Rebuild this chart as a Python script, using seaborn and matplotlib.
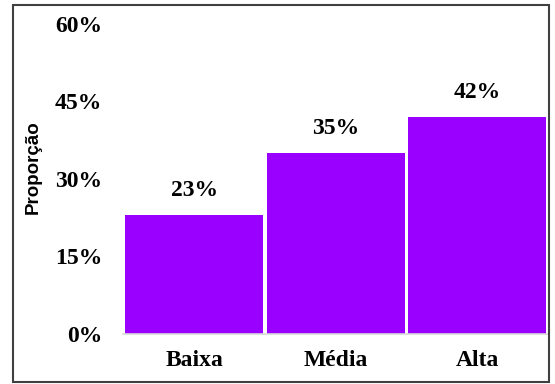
import matplotlib
matplotlib.use("Agg")
import matplotlib.pyplot as plt
from matplotlib.patches import Rectangle
from matplotlib.ticker import PercentFormatter
import pandas as pd
import seaborn as sns

categorias = ["Baixa", "Média", "Alta"]
proporcoes = [0.23, 0.35, 0.42]
rotulos = ["23%", "35%", "42%"]
yticks = [0.0, 0.15, 0.30, 0.45, 0.60]

sns.set_style("white")
plt.rcParams["font.family"] = ["Liberation Serif", "DejaVu Serif"]
plt.rcParams["text.color"] = "black"
plt.rcParams["xtick.color"] = "black"
plt.rcParams["ytick.color"] = "black"

df = pd.DataFrame({"categoria": categorias, "proporcao": proporcoes})

fig = plt.figure(figsize=(5.55, 3.84), dpi=100)
ax = fig.add_axes([0.2222, 0.1315, 0.765, 0.806])

sns.barplot(data=df, x="categoria", y="proporcao", color="#9900FF",
            saturation=1, width=0.975, linewidth=0, ax=ax)

ax.set_xlim(-0.5, 2.5)
ax.set_ylim(0, 0.60)
ax.set_yticks(yticks)
ax.yaxis.set_major_formatter(PercentFormatter(1.0, decimals=0))

for s in ["top", "right", "left"]:
    ax.spines[s].set_visible(False)
ax.spines["bottom"].set_color("#d9d9d9")
ax.spines["bottom"].set_linewidth(1.2)

ax.tick_params(axis="y", length=0, pad=15, labelsize=17, labelcolor="black")
ax.tick_params(axis="x", length=0, pad=12, labelsize=17, labelcolor="black")
for lab in ax.get_xticklabels() + ax.get_yticklabels():
    lab.set_fontweight("bold")

ax.set_xlabel("")
ax.set_ylabel("")
fig.text(0.0595, 0.565, "Proporção", rotation=90, ha="center", va="center",
         fontsize=13.5, fontweight="bold", color="black",
         family=["Liberation Sans", "DejaVu Sans"])

for patch, txt in zip(ax.patches, rotulos):
    ax.annotate(txt, (patch.get_x() + patch.get_width() / 2, patch.get_height()),
                xytext=(0, 10), textcoords="offset points", ha="center", va="bottom",
                fontsize=17, fontweight="bold", color="black")

fig.patches.append(Rectangle((13 / 555, 2 / 384), 536 / 555, 377 / 384,
                             transform=fig.transFigure, fill=False,
                             edgecolor="#404040", linewidth=1.5))

fig.savefig("out.png", dpi=100)
